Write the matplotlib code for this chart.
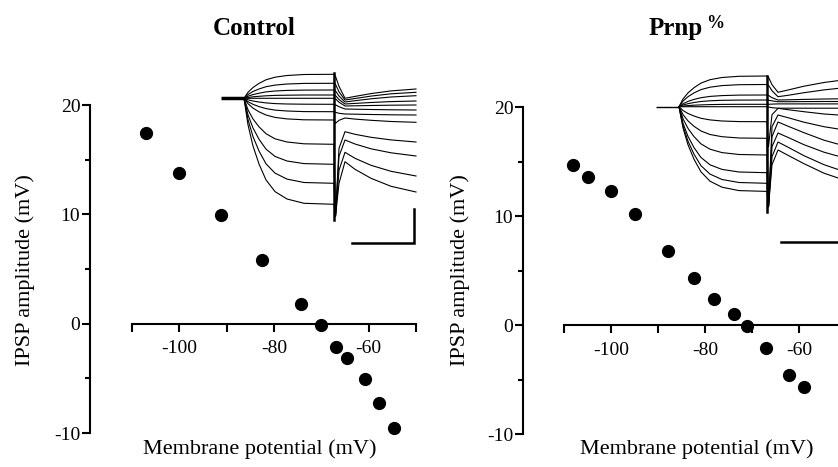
import matplotlib
matplotlib.use("Agg")
import matplotlib.pyplot as plt

# ==========================================================
# DATA
# ==========================================================

# IPSP reversal: membrane potential (mV) vs IPSP amplitude (mV)
control_vm = [-107.1, -100.1, -91.2, -82.6, -74.4, -70.1, -66.8, -64.6, -60.8, -57.8, -54.6]
control_ipsp = [17.4, 13.8, 9.9, 5.8, 1.8, -0.1, -2.1, -3.1, -5.1, -7.3, -9.5]

prnp_vm = [-108.1, -105.0, -100.1, -95.0, -88.0, -82.3, -78.1, -73.8, -71.1, -67.0, -62.2, -58.9]
prnp_ipsp = [14.7, 13.6, 12.3, 10.2, 6.85, 4.3, 2.4, 1.0, -0.1, -2.05, -4.6, -5.7]

x_ticks = [-110, -100, -90, -80, -70, -60, -50]
x_tick_labels = ["", "-100", "", "-80", "", "-60", ""]
y_ticks = [-10, 0, 10, 20]
y_minor_ticks = [-5, 5, 15]

titles = ["Control", "Prnp"]

# inset traces (arbitrary inset units: time, voltage relative to rest)
# control inset
ctl_pre_t = [23, 27, 32, 38, 45, 54, 66, 83, 113]
ctl_post_t = [114.5, 118, 124, 134, 150, 170, 195]
ctl_pre_v = [
    [0, 6.0, 10.8, 14.9, 18.5, 21.1, 22.8, 23.8, 24.0],
    [0, 3.8, 6.8, 9.3, 11.6, 13.2, 14.3, 14.9, 15.0],
    [0, 2.1, 3.7, 5.1, 6.4, 7.3, 7.9, 8.2, 8.3],
    [0, 0.8, 1.5, 2.0, 2.5, 2.9, 3.1, 3.3, 3.3],
    [0, 0, 0, 0, 0, 0, 0, 0, 0],
    [0, -1.5, -2.7, -3.7, -4.6, -5.3, -5.7, -5.9, -6.0],
    [0, -3.4, -6.0, -8.3, -10.3, -11.8, -12.7, -13.3, -13.4],
    [0, -5.4, -9.8, -13.5, -16.7, -19.1, -20.6, -21.5, -21.7],
    [0, -11.5, -20.7, -28.5, -35.4, -40.5, -43.7, -45.5, -46.0],
    [0, -16.5, -29.7, -40.9, -50.8, -58.1, -62.7, -65.3, -66.0],
    [0, -21.3, -38.3, -52.7, -65.5, -74.8, -80.8, -84.2, -85.0],
    [0, -26.5, -47.7, -65.7, -81.6, -93.3, -100.7, -105.0, -106.0],
]
ctl_post_v = [
    [22, 12, 0, 1.9, 4.7, 7.4, 9.3],
    [14, 6.5, -1.7, -0.2, 2.2, 4.5, 6],
    [7.5, 2.3, -3.7, -2.4, -0.5, 1.3, 2.6],
    [2.8, -1.2, -5.7, -5.1, -4.2, -3.3, -2.7],
    [-0.5, -3.9, -7.7, -7.5, -7.2, -6.9, -6.7],
    [-6.5, -8.4, -10.7, -10.9, -11.2, -11.5, -11.7],
    [-14, -15, -15.7, -15.9, -16.2, -16.5, -16.7],
    [-25, -22, -19.7, -20.8, -22, -23.2, -24],
    [-118, -50, -33.4, -36, -39, -41.6, -43.7],
    [-118, -58, -41.7, -45.7, -50.5, -54.5, -57.7],
    [-118, -72, -54, -60, -67, -73, -77.7],
    [-118, -85, -63.4, -71, -80, -88, -93.7],
]

# Prnp inset
prnp_pre_t = [23, 27, 32, 38, 45, 54, 66, 83, 111]
prnp_post_t = [112.5, 116, 122, 132, 148, 168, 193]
prnp_pre_v = [
    [0, 7.7, 13.8, 19.0, 23.6, 27.0, 29.2, 30.4, 30.7],
    [0, 5.6, 10.0, 13.8, 17.1, 19.5, 21.1, 22.0, 22.2],
    [0, 2.9, 5.3, 7.3, 9.0, 10.3, 11.1, 11.6, 11.7],
    [0, 1.7, 3.0, 4.2, 5.2, 5.9, 6.4, 6.6, 6.7],
    [0, 0.6, 1.1, 1.5, 1.8, 2.1, 2.3, 2.4, 2.4],
    [0, 0, 0, 0, 0, 0, 0, 0, 0],
    [0, -3.8, -6.8, -9.3, -11.6, -13.2, -14.3, -14.9, -15.0],
    [0, -7.9, -14.2, -19.6, -24.3, -27.8, -30.0, -31.3, -31.6],
    [0, -12.1, -21.7, -29.9, -37.2, -42.5, -45.9, -47.8, -48.3],
    [0, -16.5, -29.7, -40.9, -50.8, -58.1, -62.7, -65.3, -66.0],
    [0, -19.2, -34.5, -47.5, -59.0, -67.4, -72.8, -75.8, -76.6],
    [0, -21.2, -38.1, -52.5, -65.2, -74.5, -80.5, -83.9, -84.7],
]
prnp_post_v = [
    [29.5, 22, 14.4, 16.7, 20.5, 24.2, 27.5],
    [21.5, 16, 10, 11.4, 14, 16.8, 19.5],
    [11.3, 9, 6.7, 6.9, 7.3, 7.7, 8],
    [6.5, 5.8, 5, 5, 5.1, 5.2, 5.2],
    [2.4, 2.6, 2.8, 2.8, 2.8, 2.8, 2.8],
    [-0.3, -1, -1.5, -1.5, -1.5, -1.5, -1.5],
    [-40, -8, -1.6, -3, -5, -7.3, -9],
    [-100, -20, -8.3, -11, -15.5, -20, -24],
    [-100, -30, -15.3, -19.5, -26, -33.5, -40.5],
    [-100, -40, -26.3, -30.7, -38, -45.5, -52.5],
    [-100, -50, -35.3, -40.5, -49, -58, -66.5],
    [-100, -58, -43.3, -48.6, -57, -66.5, -75],
]

# ==========================================================
# FIGURE SETUP
# ==========================================================

W, H = 838, 467
plt.rcParams["font.family"] = ["Liberation Serif", "DejaVu Serif"]
plt.rcParams["axes.unicode_minus"] = False

fig = plt.figure(figsize=(W / 100, H / 100), dpi=100)


def px_box(x0, y0, x1, y1):
    # pixel box (top-left origin) -> figure fraction rect
    return [x0 / W, (H - y1) / H, (x1 - x0) / W, (y1 - y0) / H]


def main_axes(box, xleft):
    ax = fig.add_axes(px_box(*box))
    ax.set_xlim(xleft, -50)
    ax.set_ylim(-10, 20)
    ax.patch.set_visible(False)
    for side in ["top", "right"]:
        ax.spines[side].set_visible(False)
    ax.spines["bottom"].set_position(("data", 0))
    ax.spines["bottom"].set_bounds(-110, -50)
    ax.spines["left"].set_bounds(-10, 20)
    for side in ["bottom", "left"]:
        ax.spines[side].set_linewidth(1.5)
    ax.set_xticks(x_ticks)
    ax.set_xticklabels(x_tick_labels)
    ax.set_yticks(y_ticks)
    ax.set_yticks(y_minor_ticks, minor=True)
    ax.tick_params(axis="x", direction="out", length=6, width=1.5,
                   pad=6, labelsize=14)
    ax.tick_params(axis="y", which="major", direction="out", length=6,
                   width=1.5, pad=1, labelsize=14)
    ax.tick_params(axis="y", which="minor", direction="out", length=3.5,
                   width=1.5)
    return ax


def inset_traces(box, vlim, pre_t, pre_v, post_t, post_v, step_t, artifact,
                 baseline_lw, bar):
    ins = fig.add_axes(px_box(*box))
    ins.set_xlim(0, 200)
    ins.set_ylim(*vlim)
    ins.axis("off")
    ins.plot([0, pre_t[0]], [0, 0], color="black", lw=baseline_lw,
             solid_capstyle="butt")
    for pv, qv in zip(pre_v, post_v):
        ins.plot(pre_t + post_t, pv + qv, color="black", lw=0.8)
    ins.plot([step_t, step_t], artifact, color="black", lw=1.8)
    bx0, bx1, by0, by1 = bar
    ins.plot([bx0, bx1, bx1], [by0, by0, by1], color="black", lw=1.8,
             solid_joinstyle="miter")
    return ins


# ==========================================================
# CONTROL PANEL
# ==========================================================

ax1 = main_axes((90, 105, 416, 433), -118.87)
ax1.plot(control_vm, control_ipsp, "o", color="black", ms=8.5,
         clip_on=False, zorder=4)

inset_traces((221, 60, 421, 250), (-151.7, 38.3),
             ctl_pre_t, ctl_pre_v, ctl_post_t, ctl_post_v,
             113, (25.3, -121.7), 2.5, (131, 193, -144.4, -110.7))

# ==========================================================
# PRNP PANEL
# ==========================================================

ax2 = main_axes((523, 107.3, 846, 434.3), -118.8)
ax2.plot(prnp_vm, prnp_ipsp, "o", color="black", ms=8.5,
         clip_on=False, zorder=4)

inset_traces((656, 60, 856, 250), (-143.3, 46.7),
             prnp_pre_t, prnp_pre_v, prnp_post_t, prnp_post_v,
             111, (30.7, -105), 1.0, (125.3, 187, -135, -102.3))

# ==========================================================
# TEXT
# ==========================================================

fig.text(254.5 / W, 1 - 35 / H, titles[0], fontsize=18, fontweight="bold",
         ha="center", va="baseline")
fig.text(676 / W, 1 - 35 / H, titles[1], fontsize=18, fontweight="bold",
         ha="center", va="baseline")
fig.text(706 / W, 1 - 28 / H, "%", fontsize=13, fontweight="bold",
         ha="left", va="baseline")

for cx in [260, 697]:
    fig.text(cx / W, 1 - 449 / H, "Membrane potential (mV)", fontsize=16,
             ha="center", va="center")
for cx in [25, 460]:
    fig.text(cx / W, 1 - 270 / H, "IPSP amplitude (mV)", fontsize=16,
             ha="center", va="center", rotation=90)

fig.savefig("out.png", dpi=100)
